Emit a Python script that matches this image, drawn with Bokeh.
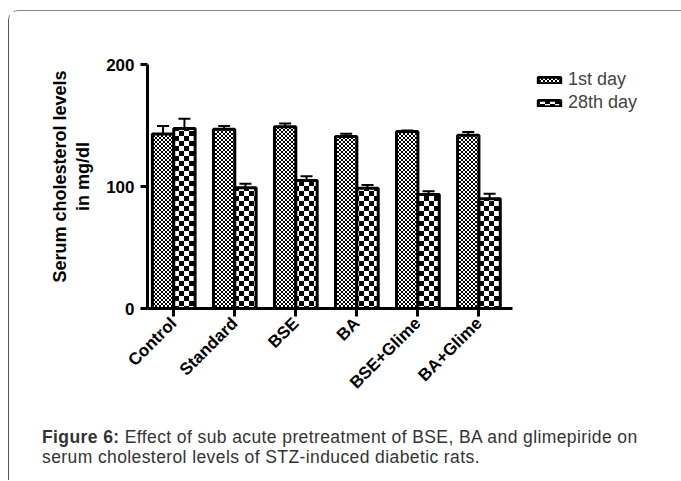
import math, zlib, struct, base64
from bokeh.plotting import figure
from bokeh.layouts import column
from bokeh.models import (ColumnDataSource, FixedTicker, Whisker, TeeHead, Legend, LegendItem,
                          Div, ImageURLTexture)
from bokeh.core.properties import value
from bokeh.embed import file_html
from bokeh.resources import INLINE

# ---- data ----
categories = ["Control", "Standard", "BSE", "BA", "BSE+Glime", "BA+Glime"]
day1_mean = [143, 147, 149, 141, 145, 142]
day1_se = [6.5, 2.5, 2.7, 2.2, 1.0, 2.7]
day28_mean = [147.5, 99, 105, 98.5, 93.5, 90]
day28_se = [8, 3.3, 3.3, 2.7, 2.7, 4]
series_names = ["1st day", "28th day"]
y_ticks = [0, 100, 200]
y_label_lines = ["Serum cholesterol levels", "in mg/dl"]
caption_bold = "Figure 6:"
caption_line1 = "Effect of sub acute pretreatment of BSE, BA and glimepiride on"
caption_line2 = "serum cholesterol levels of STZ-induced diabetic rats."


def png_uri(w, h, cell):
    rows = []
    for yy in range(h):
        row = bytearray([0])
        for xx in range(w):
            on = ((xx // cell) + (yy // cell)) % 2 == 0
            c = 0 if on else 255
            row += bytes([c, c, c])
        rows.append(bytes(row))
    raw = b"".join(rows)

    def chunk(t, d):
        return struct.pack(">I", len(d)) + t + d + struct.pack(">I", zlib.crc32(t + d) & 0xffffffff)
    png = b"\x89PNG\r\n\x1a\n" + chunk(b"IHDR", struct.pack(">IIBBBBB", w, h, 8, 2, 0, 0, 0)) \
        + chunk(b"IDAT", zlib.compress(raw)) + chunk(b"IEND", b"")
    return "data:image/png;base64," + base64.b64encode(png).decode()


fine = ImageURLTexture(url=png_uri(4, 4, 2))
coarse = ImageURLTexture(url=png_uri(10, 10, 5))

xs = list(range(len(categories)))
bw = 0.35
x_lo, x_hi = -0.43, 5.55          # extent of the category axis
src1 = ColumnDataSource(dict(x=[v - bw / 2 for v in xs], top=day1_mean,
                             up=[m + s for m, s in zip(day1_mean, day1_se)]))
src2 = ColumnDataSource(dict(x=[v + bw / 2 for v in xs], top=day28_mean,
                             up=[m + s for m, s in zip(day28_mean, day28_se)]))

fig_w, border_l, border_r = 668, 138, 5
frame_w = fig_w - border_l - border_r
axis_px = 365.0
x_end = x_lo + (x_hi - x_lo) * frame_w / axis_px

p = figure(width=fig_w, height=410, output_backend="svg", toolbar_location=None,
           x_range=(x_lo, x_end), y_range=(0, 200),
           min_border_left=border_l, min_border_right=border_r, min_border_top=53,
           min_border_bottom=113)
p.outline_line_color = None
p.xgrid.visible = False
p.ygrid.visible = False

r1 = p.vbar(x="x", top="top", width=bw, source=src1, fill_color="white", line_color="black",
            line_width=3, hatch_pattern=value("fine"), hatch_extra={"fine": fine})
r2 = p.vbar(x="x", top="top", width=bw, source=src2, fill_color="white", line_color="black",
            line_width=3, hatch_pattern=value("coarse"), hatch_extra={"coarse": coarse})

for s in (src1, src2):
    w = Whisker(base="x", lower="top", upper="up", source=s, line_width=2, line_color="black",
                lower_head=None, upper_head=TeeHead(size=12, line_width=2, line_color="black"))
    p.add_layout(w)

ax = p.xaxis[0]
ax.bounds = (x_lo, x_hi)
ax.ticker = FixedTicker(ticks=xs)
ax.major_label_overrides = {i: c for i, c in enumerate(categories)}
ax.major_label_orientation = math.pi / 4
ax.major_label_text_font = "Liberation Sans"
ax.major_label_text_font_style = "bold"
ax.major_label_text_font_size = "17px"
ax.major_label_text_color = "black"
ax.major_label_standoff = 4
ax.axis_line_width = 3
ax.major_tick_line_width = 3
ax.major_tick_out = 8
ax.major_tick_in = 0
ax.minor_tick_line_color = None

ay = p.yaxis[0]
ay.ticker = FixedTicker(ticks=y_ticks)
ay.major_label_text_font = "Liberation Sans"
ay.major_label_text_font_style = "bold"
ay.major_label_text_font_size = "17px"
ay.major_label_text_color = "black"
ay.major_label_standoff = 6
ay.axis_line_width = 3
ay.major_tick_line_width = 3
ay.major_tick_out = 7
ay.major_tick_in = 0
ay.minor_tick_line_color = None
pad = "\u00a0" * 4
ay.axis_label = "\n".join(pad + t for t in y_label_lines)
ay.axis_label_text_font = "Liberation Sans"
ay.axis_label_text_font_style = "bold"
ay.axis_label_text_font_size = "18px"
ay.axis_label_text_line_height = 1.18
ay.axis_label_text_color = "black"
ay.axis_label_standoff = 10

legend = Legend(items=[LegendItem(label=series_names[0], renderers=[r1]),
                       LegendItem(label=series_names[1], renderers=[r2])],
                location=(388, 195), padding=0, margin=0, spacing=2,
                glyph_width=28, glyph_height=8, label_height=20, label_standoff=5,
                label_text_font="Liberation Sans", label_text_font_size="18px",
                border_line_color=None, background_fill_alpha=0)
p.add_layout(legend, "center")

cap = Div(text="<b>%s</b> %s<br>%s" % (caption_bold, caption_line1, caption_line2),
          width=640, height=53, margin=(6, 0, 0, 33),
          styles={"font-family": "Liberation Sans", "font-size": "17.5px",
                  "letter-spacing": "0.4px", "line-height": "20px", "color": "#333333",
                  "white-space": "nowrap"})

outer = column(p, cap, margin=(10, 0, 0, 8),
               styles={"border-top": "1.5px solid #8a8a8a", "border-left": "1.5px solid #555555",
                       "border-top-left-radius": "10px"})

open("out.html", "w").write(file_html(outer, INLINE))
